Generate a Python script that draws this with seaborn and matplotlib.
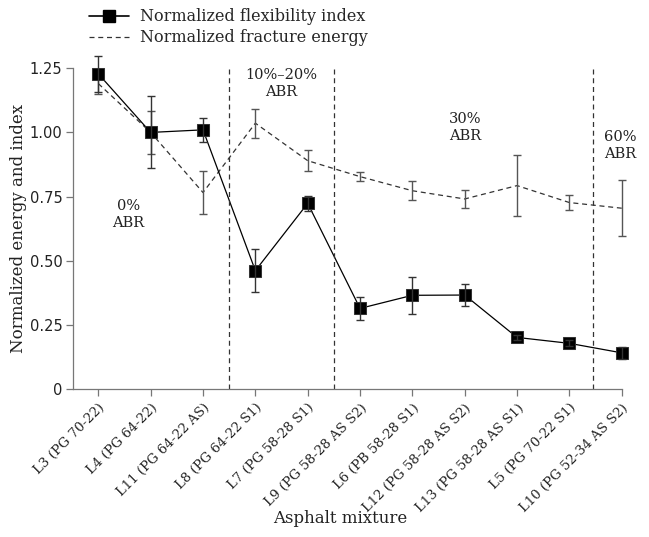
import matplotlib
matplotlib.use('Agg')
import matplotlib.pyplot as plt
import seaborn as sns
import pandas as pd
from matplotlib.lines import Line2D

mixtures = ['L3 (PG 70-22)', 'L4 (PG 64-22)', 'L11 (PG 64-22 AS)', 'L8 (PG 64-22 S1)',
            'L7 (PG 58-28 S1)', 'L9 (PG 58-28 AS S2)', 'L6 (PB 58-28 S1)',
            'L12 (PG 58-28 AS S2)', 'L13 (PG 58-28 AS S1)', 'L5 (PG 70-22 S1)',
            'L10 (PG 52-34 AS S2)']
flex_index = [1.228, 1.0, 1.01, 0.462, 0.724, 0.315, 0.366, 0.367, 0.202, 0.179, 0.142]
flex_err = [0.07, 0.14, 0.047, 0.085, 0.03, 0.045, 0.072, 0.043, 0.01, 0.012, 0.023]
fract_energy = [1.19, 1.0, 0.766, 1.036, 0.89, 0.828, 0.773, 0.741, 0.793, 0.727, 0.705]
fract_err = [0.04, 0.085, 0.083, 0.057, 0.04, 0.018, 0.037, 0.035, 0.12, 0.028, 0.11]
group_bounds = [2.5, 4.5, 9.45]
group_labels = ['0%\nABR', '10%\u201320%\nABR', '30%\nABR', '60%\nABR']
group_label_x = [0.57, 3.5, 7.0, 9.97]
group_label_y = [0.68, 1.19, 1.02, 0.95]

df = pd.DataFrame({'pos': range(len(mixtures)), 'flex': flex_index, 'energy': fract_energy})

sns.set_style('ticks')
serif = ['DejaVu Serif']
plt.rcParams['font.family'] = ['DejaVu Sans']

fig = plt.figure(figsize=(6.49, 5.37), dpi=100)
ax = fig.add_axes([0.112, 0.275, 0.846, 0.598])

sns.lineplot(data=df, x='pos', y='energy', ax=ax, color='#333333', lw=0.9,
             linestyle=(0, (4, 3)), clip_on=False)
ax.errorbar(df['pos'], df['energy'], yerr=fract_err, fmt='none', ecolor='#555555',
            elinewidth=1.0, capsize=3, capthick=1.0, clip_on=False)
sns.lineplot(data=df, x='pos', y='flex', ax=ax, color='black', lw=0.9,
             marker='s', markersize=8.5, markerfacecolor='black', markeredgecolor='#333333',
             clip_on=False)
ax.errorbar(df['pos'], df['flex'], yerr=flex_err, fmt='none', ecolor='#333333',
            elinewidth=1.0, capsize=3, capthick=1.0, clip_on=False)

for xb in group_bounds:
    ax.plot([xb, xb], [0, 1.25], color='#333333', lw=0.9, linestyle=(0, (4, 3)))
for lx, ly, lt in zip(group_label_x, group_label_y, group_labels):
    ax.text(lx, ly, lt, ha='center', va='center', fontsize=10.5, family=serif,
            color='#222222', linespacing=1.3)

ax.set_xlim(-0.49, 10)
ax.set_ylim(0, 1.25)
ax.set_yticks([0, 0.25, 0.5, 0.75, 1.0, 1.25])
ax.set_yticklabels(['0', '0.25', '0.50', '0.75', '1.00', '1.25'], fontsize=10.5, color='#333333')
ax.set_xticks(range(len(mixtures)))
ax.set_xticklabels(mixtures, rotation=45, ha='right', rotation_mode='anchor',
                   fontsize=9.5, family=serif, color='#222222')
ax.tick_params(axis='both', colors='#777777', labelcolor='#222222', length=5, width=0.9)
ax.tick_params(axis='y', pad=2.5)
ax.set_xlabel('Asphalt mixture', fontsize=12, family=serif, color='#222222')
ax.set_ylabel('Normalized energy and index', fontsize=12, family=serif, color='#222222')
ax.xaxis.set_label_coords(0.487, -0.375)
ax.yaxis.set_label_coords(-0.083, 0.5)
sns.despine(ax=ax)
for s in ['left', 'bottom']:
    ax.spines[s].set_color('#777777')
    ax.spines[s].set_linewidth(0.9)

handles = [Line2D([], [], color='black', lw=1.2, marker='s', markersize=8),
           Line2D([], [], color='#333333', lw=0.9, linestyle=(0, (4, 3)))]
fig.legend(handles, ['Normalized flexibility index', 'Normalized fracture energy'],
           loc='upper left', bbox_to_anchor=(0.12, 1.005), frameon=False,
           prop={'family': serif, 'size': 11.5}, handlelength=2.5, labelspacing=0.25,
           borderaxespad=0.3, handletextpad=0.7)

fig.savefig('out.png', dpi=100)
